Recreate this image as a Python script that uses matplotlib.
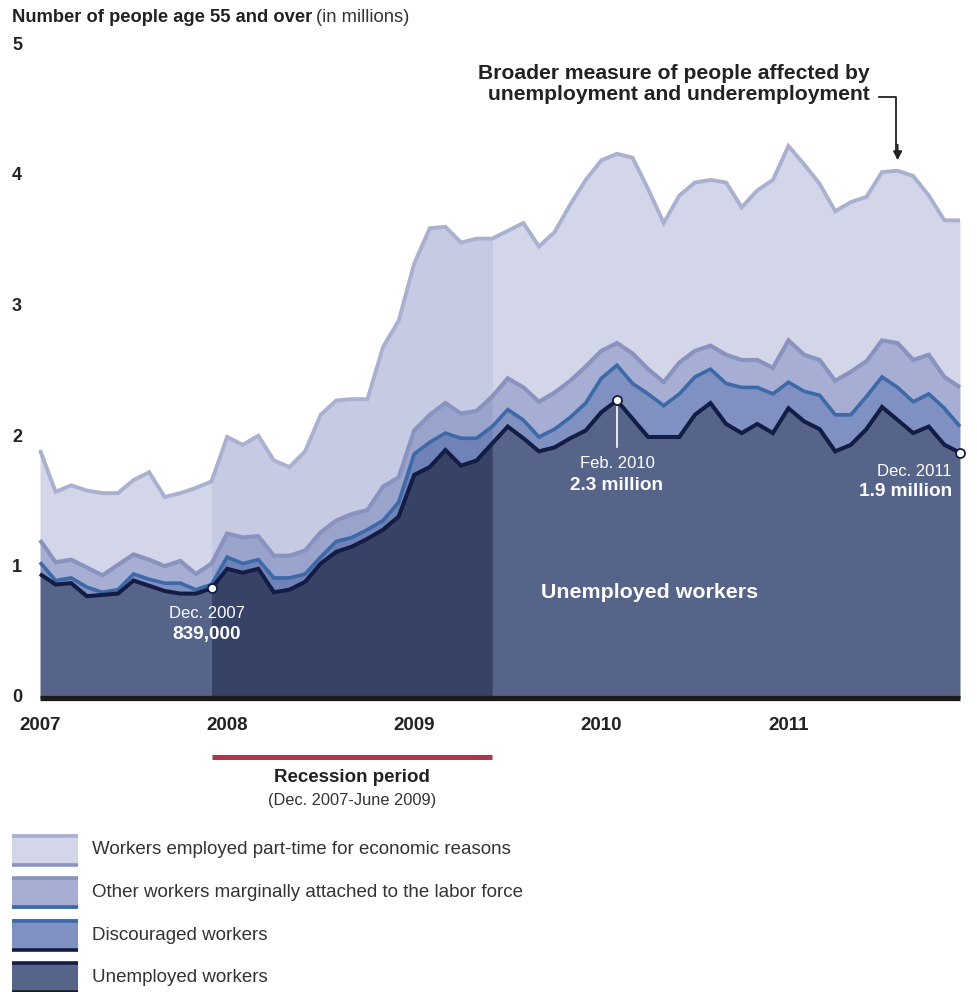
import numpy as np
import matplotlib
matplotlib.use("Agg")
import matplotlib.pyplot as plt
import matplotlib.transforms as mtransforms
from matplotlib.patches import Rectangle
from matplotlib.lines import Line2D

plt.rcParams['font.family'] = ['Liberation Sans', 'DejaVu Sans']

# ---------------- data (millions, stacked levels, Jan 2007 - Dec 2011) ----------------
months = np.arange(60)  # 0 = Jan 2007 ... 59 = Dec 2011
year_labels = ["2007", "2008", "2009", "2010", "2011"]
year_positions = [0, 12, 24, 36, 48]
y_ticks = [0, 1, 2, 3, 4, 5]

unemployed = [0.95, 0.87, 0.88, 0.78, 0.79, 0.80, 0.90, 0.86, 0.82, 0.80, 0.80, 0.84,
              0.99, 0.96, 0.99, 0.81, 0.83, 0.89, 1.03, 1.12, 1.16, 1.22, 1.29, 1.39,
              1.71, 1.77, 1.90, 1.78, 1.82, 1.95, 2.08, 1.99, 1.89, 1.92, 1.99, 2.05,
              2.19, 2.28, 2.14, 2.00, 2.00, 2.00, 2.17, 2.26, 2.10, 2.03, 2.10, 2.03,
              2.22, 2.12, 2.06, 1.89, 1.94, 2.06, 2.23, 2.13, 2.03, 2.08, 1.94, 1.88]
plus_discouraged = [1.04, 0.90, 0.92, 0.85, 0.81, 0.83, 0.95, 0.91, 0.88, 0.88, 0.83, 0.87,
                    1.08, 1.03, 1.06, 0.92, 0.92, 0.95, 1.08, 1.20, 1.23, 1.29, 1.36, 1.50,
                    1.87, 1.96, 2.03, 1.99, 1.99, 2.08, 2.21, 2.13, 2.00, 2.06, 2.15, 2.26,
                    2.45, 2.55, 2.41, 2.33, 2.24, 2.33, 2.46, 2.52, 2.41, 2.38, 2.38, 2.33,
                    2.42, 2.35, 2.32, 2.17, 2.17, 2.31, 2.46, 2.38, 2.27, 2.33, 2.22, 2.08]
plus_marginal = [1.21, 1.04, 1.06, 1.00, 0.94, 1.02, 1.10, 1.06, 1.01, 1.05, 0.95, 1.03,
                 1.26, 1.23, 1.24, 1.09, 1.09, 1.13, 1.27, 1.36, 1.41, 1.44, 1.62, 1.69,
                 2.05, 2.17, 2.26, 2.18, 2.20, 2.31, 2.45, 2.38, 2.27, 2.34, 2.43, 2.54,
                 2.66, 2.72, 2.64, 2.52, 2.42, 2.57, 2.66, 2.70, 2.63, 2.59, 2.59, 2.53,
                 2.74, 2.63, 2.59, 2.43, 2.50, 2.58, 2.74, 2.72, 2.59, 2.63, 2.46, 2.38]
broader_total = [1.90, 1.58, 1.63, 1.59, 1.57, 1.57, 1.67, 1.73, 1.54, 1.57, 1.61, 1.66,
                 2.00, 1.94, 2.01, 1.82, 1.77, 1.89, 2.17, 2.28, 2.29, 2.29, 2.69, 2.89,
                 3.33, 3.60, 3.61, 3.49, 3.52, 3.52, 3.58, 3.64, 3.46, 3.57, 3.78, 3.97,
                 4.12, 4.17, 4.14, 3.90, 3.64, 3.85, 3.95, 3.97, 3.95, 3.76, 3.89, 3.97,
                 4.23, 4.09, 3.94, 3.73, 3.80, 3.84, 4.03, 4.04, 4.00, 3.85, 3.66, 3.66]
recession_start, recession_end = 11, 29   # Dec 2007, June 2009

legend_labels = ["Workers employed part-time for economic reasons",
                 "Other workers marginally attached to the labor force",
                 "Discouraged workers",
                 "Unemployed workers"]

# ---------------- styling ----------------
W, H = 978, 992
fig = plt.figure(figsize=(W / 100, H / 100), dpi=100)
ax = fig.add_axes([0, 0, 1, 1])
ax.axis('off')
x0px, dxpx = 40.0, 15.593
y0px, dypx = 698.0, 130.5
ax.set_xlim(-x0px / dxpx, (W - x0px) / dxpx)
ax.set_ylim((y0px - H) / dypx, y0px / dypx)

pxT = mtransforms.Affine2D().scale(1 / W, -1 / H).translate(0, 1) + fig.transFigure
xdata_ypx = mtransforms.blended_transform_factory(ax.transData, pxT)
xpx_ydata = mtransforms.blended_transform_factory(pxT, ax.transData)

fill_cols = ['#D3D5E9', '#A6AED3', '#8090C0', '#56648A']
fill_rec = ['#C6CAE3', '#9AA3CC', '#7182B6', '#364266']
line_cols = ['#A9B0D0', '#8893C0', '#3C69A8', '#121C45']

x = months
U = np.array(unemployed)
D = np.array(plus_discouraged)
M = np.array(plus_marginal)
T = np.array(broader_total)
layers = [(M, T), (D, M), (U, D), (np.zeros_like(U), U)]
rec = (x >= recession_start) & (x <= recession_end)
for (lo, hi), c, cr in zip(layers, fill_cols, fill_rec):
    ax.fill_between(x, lo, hi, color=c, lw=0)
    ax.fill_between(x, lo, hi, where=rec, color=cr, lw=0)

for series, c, lw in zip([T, M, D, U], line_cols, [2.8, 3.0, 2.6, 2.9]):
    ax.plot(x, series, color=c, lw=lw, solid_joinstyle='miter', solid_capstyle='butt')

# baseline
ax.plot([0, 59], [0, 0], color='#1c1c1c', lw=3.8, solid_capstyle='butt')

# y labels
for v in y_ticks:
    ax.text(12, v, str(v), transform=xpx_ydata, fontsize=13, fontweight='bold',
            color='#222222', ha='left', va='center')
# year labels
for p, lab in zip(year_positions, year_labels):
    ax.text(p, 725, lab, transform=xdata_ypx, fontsize=13.5, fontweight='bold',
            color='#222222', ha='center', va='center')

# title
t1 = fig.text(12 / W, 1 - 18 / H, "Number of people age 55 and over", fontsize=13.2,
              fontweight='bold', color='#222222', ha='left', va='center')
fig.canvas.draw()
bb = t1.get_window_extent()
fig.text(bb.x1 / W + 4 / W, 1 - 18 / H, "(in millions)", fontsize=13.2,
         color='#333333', ha='left', va='center')

# broader measure annotation
ax.text(870, 84, "Broader measure of people affected by\nunemployment and underemployment",
        transform=pxT, fontsize=15.2, fontweight='bold', color='#222222',
        ha='right', va='center', linespacing=1.1)
ax.add_line(Line2D([879, 896, 896], [97, 97, 150], transform=pxT, color='#222222', lw=1.3))
ax.annotate("", xy=(55, T[55] + 0.08), xytext=(55, T[55] + 0.2),
            arrowprops=dict(arrowstyle='-|>', color='#222222', lw=1.3, mutation_scale=13,
                            shrinkA=0, shrinkB=0))

# dots and labels
def dot(i, v):
    ax.plot([i], [v], marker='o', ms=6.5, mfc='white', mec='#121C45', mew=1.3, zorder=6)

dot(11, U[11])
ax.text(11 - 0.3, 613, "Dec. 2007", transform=xdata_ypx, fontsize=12, color='white',
        ha='center', va='center')
ax.text(11 - 0.3, 635, "839,000", transform=xdata_ypx, fontsize=13.7, fontweight='bold',
        color='white', ha='center', va='center')

ax.plot([37, 37], [U[37] - 0.05, 1.92], color='white', lw=1.2, zorder=5)
dot(37, U[37])
ax.text(37, 463, "Feb. 2010", transform=xdata_ypx, fontsize=12, color='white',
        ha='center', va='center')
ax.text(37, 485, "2.3 million", transform=xdata_ypx, fontsize=13.7, fontweight='bold',
        color='white', ha='center', va='center')

dot(59, U[59])
ax.text(952, 471, "Dec. 2011", transform=pxT, fontsize=12, color='white',
        ha='right', va='center')
ax.text(952, 492, "1.9 million", transform=pxT, fontsize=13.7, fontweight='bold',
        color='white', ha='right', va='center')

ax.text(650, 592, "Unemployed workers", transform=pxT, fontsize=15.4, fontweight='bold',
        color='white', ha='center', va='center')

# recession bar
ax.add_line(Line2D([recession_start, recession_end], [757, 757], transform=xdata_ypx,
                   color='#B0344B', lw=3.6, solid_capstyle='butt'))
mid = (recession_start + recession_end) / 2
ax.text(mid, 778, "Recession period", transform=xdata_ypx, fontsize=13.5, fontweight='bold',
        color='#222222', ha='center', va='center')
ax.text(mid, 800, "(Dec. 2007-June 2009)", transform=xdata_ypx, fontsize=11.8,
        color='#333333', ha='center', va='center')

# legend
edge_pairs = [(line_cols[0], line_cols[1]), (line_cols[1], line_cols[2]),
              (line_cols[2], line_cols[3]), (line_cols[3], '#1c1c1c')]
for k, (lab, fc, (tc, bc)) in enumerate(zip(legend_labels, fill_cols, edge_pairs)):
    yc = 850 + k * 42.5
    top, bot = yc - 16, yc + 16
    ax.add_patch(Rectangle((12, top), 66, bot - top, transform=pxT, facecolor=fc,
                           edgecolor='none'))
    ax.add_line(Line2D([12, 78], [top + 1.5, top + 1.5], transform=pxT, color=tc, lw=2.6,
                       solid_capstyle='butt'))
    ax.add_line(Line2D([12, 78], [bot - 1.5, bot - 1.5], transform=pxT, color=bc, lw=2.6,
                       solid_capstyle='butt'))
    ax.text(92, yc, lab, transform=pxT, fontsize=13.5, color='#333333',
            ha='left', va='center')

fig.savefig("out.png", dpi=100, facecolor='white')
